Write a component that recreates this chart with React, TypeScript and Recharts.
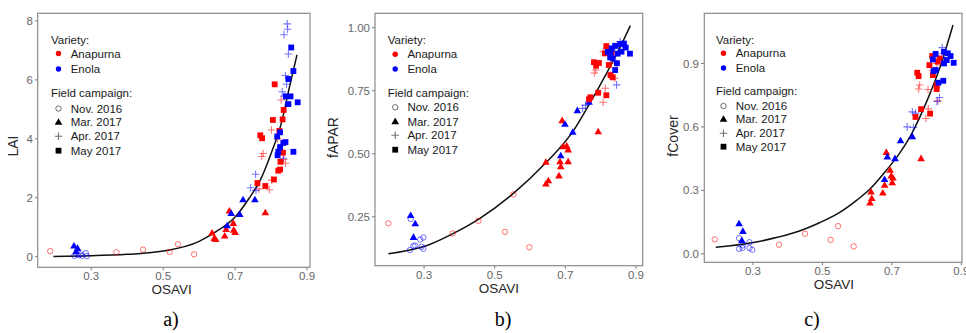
import React from 'react';
import { ComposedChart, Scatter, Line, XAxis, YAxis } from 'recharts';

type P = [number, number];

const RED = '#ff0000';
const BLUE = '#0000ff';

// shared x ticks (OSAVI)
const osaviTicks = [0.3, 0.5, 0.7, 0.9];

// a) LAI
const laiNovAna: P[] = [[0.186, 0.19], [0.37, 0.15], [0.444, 0.24], [0.518, 0.16], [0.541, 0.42], [0.586, 0.08]];
const laiNovEno: P[] = [[0.253, 0.03], [0.258, 0.1], [0.265, 0.05], [0.275, 0.03], [0.285, 0.12], [0.288, 0.02], [0.27, 0.08]];
const laiMarAna: P[] = [[0.684, 1.55], [0.784, 1.49], [0.695, 1.13], [0.636, 0.8], [0.642, 0.62], [0.671, 0.7], [0.675, 0.92], [0.696, 0.9], [0.7, 0.82], [0.646, 0.58]];
const laiMarEno: P[] = [[0.252, 0.36], [0.262, 0.28], [0.258, 0.17], [0.722, 1.93], [0.755, 1.93], [0.689, 1.47], [0.713, 1.43], [0.678, 1.05]];
const laiAprAna: P[] = [[0.828, 5.32], [0.801, 4.3], [0.778, 3.5], [0.774, 3.4], [0.84, 3.17], [0.802, 2.6], [0.795, 2.27], [0.766, 2.3], [0.818, 4.0], [0.835, 3.3]];
const laiAprEno: P[] = [[0.845, 7.9], [0.846, 7.72], [0.836, 7.53], [0.848, 6.88], [0.84, 6.15], [0.843, 5.85], [0.831, 5.6], [0.836, 5.45], [0.834, 3.34], [0.757, 2.8], [0.743, 2.34], [0.758, 2.25]];
const laiMayAna: P[] = [[0.81, 5.85], [0.805, 4.64], [0.832, 4.66], [0.835, 4.98], [0.823, 4.27], [0.77, 4.12], [0.775, 4.02], [0.833, 3.53], [0.826, 3.22], [0.825, 2.96], [0.82, 2.92], [0.808, 2.62], [0.762, 2.5], [0.784, 2.4]];
const laiMayEno: P[] = [[0.856, 7.1], [0.862, 6.3], [0.848, 6.03], [0.841, 5.44], [0.854, 5.44], [0.848, 5.18], [0.874, 5.24], [0.817, 4.08], [0.825, 4.22], [0.84, 3.89], [0.834, 3.86], [0.862, 3.56], [0.825, 3.72], [0.82, 3.56], [0.818, 3.44]];
const laiFit: P[] = [[0.195, 0.01], [0.3, 0.03], [0.4, 0.08], [0.5, 0.19], [0.6, 0.52], [0.64, 0.8], [0.7, 1.35], [0.74, 2.0], [0.77, 2.6], [0.8, 3.5], [0.83, 4.6], [0.85, 5.7], [0.872, 6.85]];
const laiTicks = [0, 2, 4, 6, 8];

// b) fAPAR
const faparNovAna: P[] = [[0.199, 0.224], [0.381, 0.184], [0.454, 0.234], [0.529, 0.19], [0.553, 0.339], [0.598, 0.129]];
const faparNovEno: P[] = [[0.262, 0.241], [0.26, 0.118], [0.27, 0.134], [0.275, 0.136], [0.289, 0.16], [0.298, 0.168], [0.298, 0.123], [0.293, 0.131]];
const faparMarAna: P[] = [[0.691, 0.631], [0.793, 0.587], [0.694, 0.528], [0.704, 0.53], [0.708, 0.515], [0.645, 0.466], [0.708, 0.468], [0.687, 0.448], [0.682, 0.412], [0.652, 0.393], [0.645, 0.38], [0.685, 0.468]];
const faparMarEno: P[] = [[0.262, 0.255], [0.275, 0.222], [0.27, 0.168], [0.734, 0.671], [0.767, 0.704], [0.699, 0.617], [0.721, 0.585], [0.687, 0.492]];
const faparAprAna: P[] = [[0.808, 0.905], [0.786, 0.832], [0.782, 0.82], [0.845, 0.859], [0.813, 0.76], [0.807, 0.704], [0.827, 0.812], [0.84, 0.8], [0.83, 0.88]];
const faparAprEno: P[] = [[0.845, 0.773], [0.749, 0.68], [0.757, 0.692], [0.855, 0.945], [0.862, 0.935], [0.85, 0.925], [0.84, 0.92]];
const faparMayAna: P[] = [[0.816, 0.927], [0.812, 0.898], [0.831, 0.9], [0.781, 0.863], [0.787, 0.849], [0.823, 0.852], [0.828, 0.812], [0.834, 0.803], [0.816, 0.732], [0.793, 0.742], [0.771, 0.724], [0.767, 0.716], [0.795, 0.86]];
const faparMayEno: P[] = [[0.831, 0.918], [0.841, 0.928], [0.855, 0.935], [0.866, 0.937], [0.871, 0.921], [0.883, 0.897], [0.859, 0.905], [0.848, 0.897], [0.834, 0.878], [0.827, 0.882], [0.841, 0.832], [0.846, 0.859], [0.828, 0.9], [0.82, 0.904]];
const faparFit: P[] = [[0.199, 0.103], [0.312, 0.138], [0.383, 0.184], [0.458, 0.244], [0.553, 0.343], [0.642, 0.46], [0.723, 0.592], [0.765, 0.69], [0.817, 0.82], [0.855, 0.922], [0.884, 1.008]];
const faparTicks = [0.25, 0.5, 0.75, 1.0];

// c) fCover
const fcovNovAna: P[] = [[0.19, 0.068], [0.375, 0.043], [0.45, 0.095], [0.524, 0.066], [0.545, 0.131], [0.59, 0.035]];
const fcovNovEno: P[] = [[0.26, 0.074], [0.26, 0.024], [0.27, 0.028], [0.29, 0.055], [0.29, 0.027], [0.298, 0.019], [0.27, 0.04]];
const fcovMarAna: P[] = [[0.684, 0.479], [0.784, 0.45], [0.695, 0.395], [0.698, 0.368], [0.703, 0.358], [0.701, 0.336], [0.679, 0.324], [0.674, 0.287], [0.64, 0.292], [0.642, 0.261], [0.637, 0.24]];
const fcovMarEno: P[] = [[0.26, 0.142], [0.271, 0.106], [0.268, 0.063], [0.725, 0.534], [0.759, 0.553], [0.687, 0.458], [0.709, 0.45], [0.679, 0.351]];
const fcovAprAna: P[] = [[0.78, 0.798], [0.777, 0.779], [0.804, 0.777], [0.832, 0.723], [0.805, 0.685], [0.798, 0.64], [0.818, 0.866], [0.83, 0.9]];
const fcovAprEno: P[] = [[0.837, 0.739], [0.83, 0.72], [0.759, 0.671], [0.768, 0.665], [0.744, 0.6], [0.762, 0.597], [0.845, 0.975], [0.848, 0.948], [0.85, 0.92]];
const fcovMayAna: P[] = [[0.816, 0.935], [0.832, 0.908], [0.808, 0.892], [0.818, 0.845], [0.773, 0.856], [0.777, 0.84], [0.829, 0.798], [0.829, 0.779], [0.784, 0.684], [0.81, 0.663], [0.768, 0.647], [0.837, 0.924]];
const fcovMayEno: P[] = [[0.826, 0.945], [0.818, 0.919], [0.85, 0.955], [0.861, 0.948], [0.869, 0.935], [0.878, 0.903], [0.858, 0.916], [0.85, 0.9], [0.82, 0.864], [0.826, 0.869], [0.848, 0.818], [0.834, 0.809]];
const fcovFit: P[] = [[0.193, 0.031], [0.31, 0.056], [0.37, 0.078], [0.434, 0.108], [0.49, 0.146], [0.55, 0.196], [0.6, 0.255], [0.636, 0.305], [0.684, 0.395], [0.72, 0.47], [0.756, 0.565], [0.804, 0.735], [0.837, 0.875], [0.876, 1.082]];
const fcovTicks = [0, 0.3, 0.6, 0.9];

const varieties = ['Anapurna', 'Enola'];
const campaigns = ['Nov. 2016', 'Mar. 2017', 'Apr. 2017', 'May 2017'];
const kinds = ['circle', 'tri', 'plus', 'square'];

const xy = (pts: P[]) => pts.map(([x, y]) => ({ x, y }));

function Mark({ kind, color, cx, cy }: any) {
  if (cx == null || cy == null) return <g />;
  if (kind === 'circle')
    return <circle cx={cx} cy={cy} r={2.7} fill="none" stroke={color} strokeOpacity={0.55} strokeWidth={1} />;
  if (kind === 'tri')
    return <polygon points={`${cx},${cy - 4.1} ${cx - 3.8},${cy + 2.5} ${cx + 3.8},${cy + 2.5}`} fill={color} />;
  if (kind === 'plus')
    return (
      <path d={`M${cx - 3.8},${cy}H${cx + 3.8}M${cx},${cy - 3.8}V${cy + 3.8}`} stroke={color} strokeOpacity={0.55} strokeWidth={1.1} fill="none" />
    );
  return <rect x={cx - 2.9} y={cy - 2.9} width={5.8} height={5.8} fill={color} />;
}

const panels = [
  {
    id: 'a', title: 'LAI', left: 37.7, right: 310, top: 13.3, bottom: 267.3,
    xDomain: [0.152, 0.909], yDomain: [-0.36, 8.26], yTicks: laiTicks, yFmt: (v: number) => String(v),
    groups: [laiNovAna, laiNovEno, laiMarAna, laiMarEno, laiAprAna, laiAprEno, laiMayAna, laiMayEno], fit: laiFit,
    titleX: 13.3, titleY: 146, osaviX: 171.7, osaviY: 289.5, tag: 'a)', tagX: 171,
    legX: 51, legRows: [40, 53.5, 69, 93.3, 108.5, 122.3, 136.3, 150.7],
  },
  {
    id: 'b', title: 'fAPAR', left: 375, right: 642.7, top: 13.3, bottom: 265.7,
    xDomain: [0.161, 0.919], yDomain: [0.056, 1.057], yTicks: faparTicks, yFmt: (v: number) => v.toFixed(2),
    groups: [faparNovAna, faparNovEno, faparMarAna, faparMarEno, faparAprAna, faparAprEno, faparMayAna, faparMayEno], fit: faparFit,
    titleX: 333.3, titleY: 137.5, osaviX: 499, osaviY: 288, tag: 'b)', tagX: 503,
    legX: 387.7, legRows: [40, 54.3, 69, 92.7, 107.3, 121.7, 135.3, 149.7],
  },
  {
    id: 'c', title: 'fCover', left: 704.3, right: 962, top: 13.3, bottom: 262.3,
    xDomain: [0.159, 0.901], yDomain: [-0.04, 1.137], yTicks: fcovTicks, yFmt: (v: number) => v.toFixed(1),
    groups: [fcovNovAna, fcovNovEno, fcovMarAna, fcovMarEno, fcovAprAna, fcovAprEno, fcovMayAna, fcovMayEno], fit: fcovFit,
    titleX: 673.3, titleY: 136, osaviX: 834, osaviY: 284, tag: 'c)', tagX: 812,
    legX: 716, legRows: [40, 53.3, 68, 91, 106, 119.3, 133.3, 146.7],
  },
];

const FONT = '"Liberation Sans", Arial, sans-serif';
const tickStyle = { fill: '#666666', fontSize: 11.5, fontFamily: FONT };

function Panel({ cfg }: any) {
  const yw = 40;
  const padR = 14;
  const left = cfg.left - yw;
  const width = cfg.right - left + padR;
  const height = 300;
  return (
    <div style={{ position: 'absolute', left, top: 0 }}>
      <ComposedChart
        width={width}
        height={height}
        margin={{ top: cfg.top, right: padR, bottom: height - cfg.bottom - 20, left: 0 }}
      >
        <XAxis
          type="number"
          dataKey="x"
          domain={cfg.xDomain}
          ticks={osaviTicks}
          interval={0}
          allowDataOverflow
          axisLine={false}
          tickLine={{ stroke: '#777777' }}
          tickSize={3}
          tickMargin={2}
          height={20}
          tick={tickStyle}
          tickFormatter={(v: number) => v.toFixed(1)}
        />
        <YAxis
          type="number"
          dataKey="y"
          domain={cfg.yDomain}
          ticks={cfg.yTicks}
          interval={0}
          allowDataOverflow
          axisLine={false}
          tickLine={{ stroke: '#777777' }}
          tickSize={3}
          tickMargin={2}
          width={yw}
          tick={tickStyle}
          tickFormatter={cfg.yFmt}
        />
        {cfg.groups.map((g: P[], i: number) => {
          const kind = kinds[Math.floor(i / 2)];
          const color = i % 2 === 0 ? RED : BLUE;
          return (
            <Scatter
              key={i}
              data={xy(g)}
              dataKey="y"
              isAnimationActive={false}
              shape={(p: any) => <Mark kind={kind} color={color} cx={p.cx} cy={p.cy} />}
            />
          );
        })}
        <Line
          data={xy(cfg.fit)}
          dataKey="y"
          type="monotone"
          dot={false}
          stroke="#111111"
          strokeWidth={1.5}
          isAnimationActive={false}
        />
      </ComposedChart>
    </div>
  );
}

function Overlay() {
  return (
    <svg width={966} height={333} style={{ position: 'absolute', left: 0, top: 0, pointerEvents: 'none' }}>
      {panels.map((cfg) => {
        const r = cfg.legRows;
        const sx = cfg.legX + 7.5;
        const tx = cfg.legX + 19.7;
        return (
          <g key={cfg.id} fontFamily={FONT}>
            <rect x={cfg.left} y={cfg.top} width={cfg.right - cfg.left} height={cfg.bottom - cfg.top} fill="none" stroke="#8a8a8a" strokeWidth={1.2} />
            <text x={cfg.legX} y={r[0]} fontSize={11.5} fill="#1a1a1a" dominantBaseline="central">Variety:</text>
            {varieties.map((v, i) => (
              <g key={v}>
                <circle cx={sx} cy={r[1 + i]} r={2.7} fill={i === 0 ? RED : BLUE} />
                <text x={tx} y={r[1 + i]} fontSize={11.5} fill="#1a1a1a" dominantBaseline="central">{v}</text>
              </g>
            ))}
            <text x={cfg.legX} y={r[3]} fontSize={11.5} fill="#1a1a1a" dominantBaseline="central">Field campaign:</text>
            {campaigns.map((c, i) => (
              <g key={c}>
                <Mark kind={kinds[i]} color="#000000" cx={sx} cy={r[4 + i]} />
                <text x={tx} y={r[4 + i]} fontSize={11.5} fill="#1a1a1a" dominantBaseline="central">{c}</text>
              </g>
            ))}
            <text
              x={cfg.titleX}
              y={cfg.titleY}
              fontSize={14}
              fill="#262626"
              textAnchor="middle"
              dominantBaseline="central"
              transform={`rotate(-90 ${cfg.titleX} ${cfg.titleY})`}
            >
              {cfg.title}
            </text>
            <text x={cfg.osaviX} y={cfg.osaviY} fontSize={13.5} fill="#262626" textAnchor="middle" dominantBaseline="central">OSAVI</text>
            <text x={cfg.tagX} y={326} fontSize={20} fill="#000000" textAnchor="middle" fontFamily='"Liberation Serif", "Times New Roman", serif'>{cfg.tag}</text>
          </g>
        );
      })}
    </svg>
  );
}

export default function App() {
  return (
    <div style={{ position: 'absolute', left: 0, top: 0, width: 966, height: 333, background: '#ffffff', overflow: 'hidden' }}>
      {panels.map((cfg) => (
        <Panel key={cfg.id} cfg={cfg} />
      ))}
      <Overlay />
    </div>
  );
}
